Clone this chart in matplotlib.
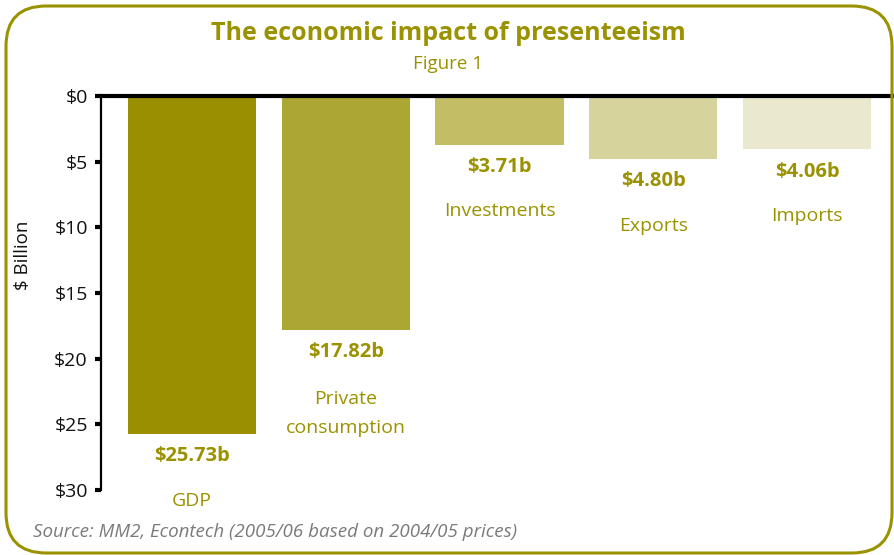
import matplotlib
matplotlib.use("Agg")
import matplotlib.pyplot as plt
from matplotlib.patches import FancyBboxPatch

categories = ["GDP", "Private\nconsumption", "Investments", "Exports", "Imports"]
values = [25.73, 17.82, 3.71, 4.80, 4.06]
value_labels = ["$25.73b", "$17.82b", "$3.71b", "$4.80b", "$4.06b"]
bar_colors = ["#998F00", "#ACA733", "#C3BE66", "#D6D49C", "#EAE8CE"]
yticks = [0, 5, 10, 15, 20, 25, 30]
ytick_labels = ["$0", "$5", "$10", "$15", "$20", "$25", "$30"]

OLIVE = "#9A9200"
plt.rcParams['font.family'] = ['Open Sans', 'DejaVu Sans']

W, H = 894, 555
fig = plt.figure(figsize=(W / 100, H / 100), dpi=100)

def fx(px):
    return px / W

def fy(py):
    return 1 - py / H

ax = fig.add_axes([fx(101), fy(490), fx(893) - fx(101), fy(96) - fy(490)])
x = list(range(len(values)))
ax.bar(x, values, width=0.833, color=bar_colors, zorder=2)
ax.set_xlim(-0.592, 4.559)
ax.set_ylim(30, 0)
ax.set_yticks(yticks)
ax.set_yticklabels(ytick_labels, fontsize=14, color="#111111")
ax.tick_params(axis='y', direction='out', length=4.5, width=3, pad=5, color="black")
ax.set_xticks([])
for s in ["right", "bottom"]:
    ax.spines[s].set_visible(False)
ax.spines["top"].set_linewidth(3)
ax.spines["top"].set_zorder(3)
ax.spines["left"].set_linewidth(1.6)

fig.text(fx(23), fy(255), "$ Billion", rotation=90, ha="center", va="center",
         fontsize=13.5, color="#111111")

for xi, v, lab, cat in zip(x, values, value_labels, categories):
    ax.annotate(lab, (xi, v), xytext=(0, -16), textcoords="offset points",
                ha="center", va="center", fontsize=14.5, fontweight="bold", color=OLIVE)
    if "\n" in cat:
        ax.annotate(cat, (xi, v), xytext=(0, -43), textcoords="offset points",
                    ha="center", va="top", fontsize=14, color=OLIVE, linespacing=1.8)
    else:
        ax.annotate(cat, (xi, v), xytext=(0, -48), textcoords="offset points",
                    ha="center", va="center", fontsize=14, color=OLIVE)

fig.text(fx(448), fy(33), "The economic impact of presenteeism", ha="center", va="center",
         fontsize=18, fontweight="bold", color=OLIVE)
fig.text(fx(448), fy(64), "Figure 1", ha="center", va="center", fontsize=13.5, color=OLIVE)
fig.text(fx(33), fy(532), "Source: MM2, Econtech (2005/06 based on 2004/05 prices)",
         ha="left", va="center", fontsize=13.5, style="italic", color="#7a7a7a")

border = FancyBboxPatch((fx(6), fy(553)), fx(892) - fx(6), fy(6) - fy(553),
                        boxstyle="round,pad=0,rounding_size=0.045",
                        transform=fig.transFigure, fill=False, edgecolor=OLIVE,
                        linewidth=2.2, mutation_aspect=W / H)
fig.patches.append(border)

fig.savefig("out.png", dpi=100)
